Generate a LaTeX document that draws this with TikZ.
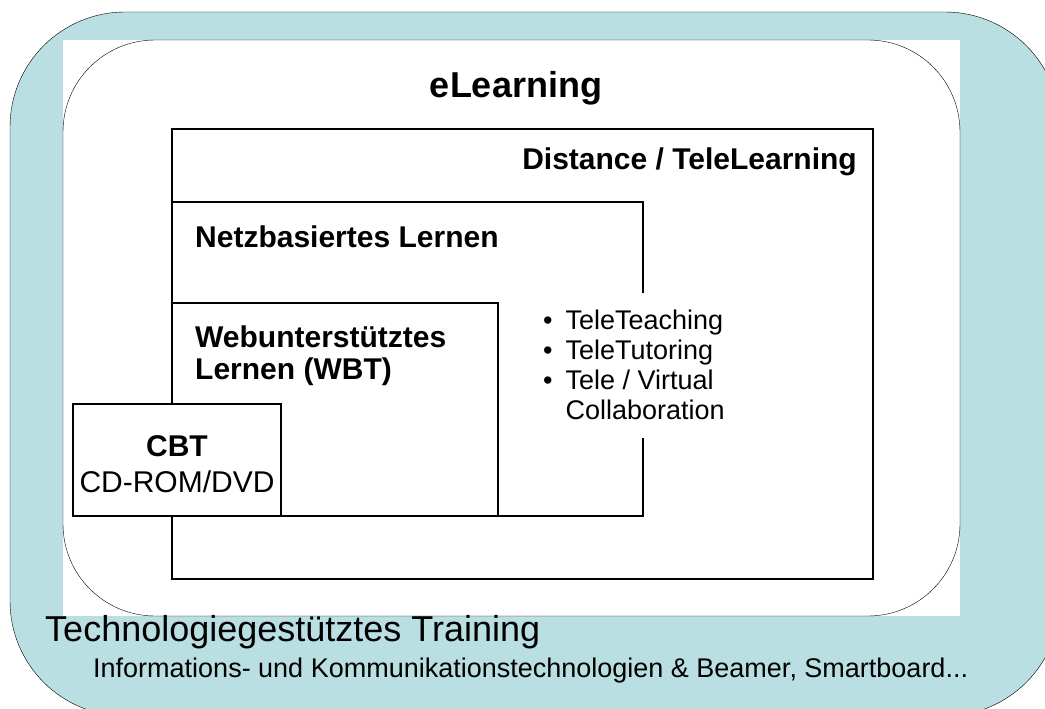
\documentclass[tikz,border=0pt]{standalone}
\usepackage{fontspec}
\setmainfont{Liberation Sans}
\usetikzlibrary{positioning}
\usetikzlibrary{calc}
\definecolor{bandblue}{RGB}{186,223,226}

\begin{document}
\begin{tikzpicture}[x=1pt, y=-1pt,
    box/.style={draw, line width=1.2pt, fill=white},
    boxtitle/.style={font=\bfseries\fontsize{30}{32}\selectfont, inner sep=0pt, align=left}]
    \useasboundingbox (0,0) rectangle (1045,709);

    \coordinate (outer) at (10, 12);
    \coordinate (sheet) at (63, 40);
    \coordinate (distance) at (172, 129);
    \coordinate (netz) at (172, 202);
    \coordinate (web) at (172, 303);
    \coordinate (cbt) at (73, 404);

    % blue band and white sheet
    \path[draw, thin, fill=bandblue, rounded corners=115pt] (outer) rectangle ++(1050, 704);
    \path[fill=white] (sheet) rectangle ++(897, 576);
    \path[draw, thin, rounded corners=92pt] (sheet) rectangle ++(897, 576);

    \node[font=\bfseries\fontsize{36}{40}\selectfont, anchor=base] (elearning) at (516, 98) {eLearning};

    % nested boxes
    \path[box] (distance) rectangle ++(701, 450);
    \node[boxtitle, anchor=base east] (distancelbl) at (857, 169) {Distance / TeleLearning};

    \path[box] (netz) rectangle ++(471, 314);
    \node[boxtitle, anchor=base west] (netzlbl) at (195, 247) {Netzbasiertes Lernen};

    \path[box] (web) rectangle ++(326, 213);
    \node[boxtitle, anchor=north west] (weblbl) at (195, 326) {Webunterstütztes\\Lernen (WBT)};

    \node[fill=white, inner xsep=8pt, inner ysep=10pt, anchor=north west,
          font=\fontsize{27}{30}\selectfont] (tools) at (535, 293)
        {\begin{tabular}{@{}l@{\hspace{13pt}}l@{}}
            \rule{0pt}{26pt}\textbullet & TeleTeaching\\
            \textbullet & TeleTutoring\\
            \textbullet & Tele / Virtual\\
                        & Collaboration
         \end{tabular}};

    \path[box] (cbt) rectangle ++(208, 112);
    \node[font=\bfseries\fontsize{30}{32}\selectfont, anchor=base] (cbtlbl) at (177, 456) {CBT};
    \node[font=\fontsize{30}{32}\selectfont, anchor=base] (media) at (177, 492) {CD-ROM/DVD};

    % band texts
    \node[font=\fontsize{36}{40}\selectfont, anchor=base west, inner sep=0pt] (tbt) at (45, 641) {Technologiegestütztes Training};
    \node[font=\fontsize{27}{30}\selectfont, anchor=base west, inner sep=0pt] (ikt) at (93, 677) {Informations- und Kommunikationstechnologien \& Beamer, Smartboard...};
\end{tikzpicture}
\end{document}
